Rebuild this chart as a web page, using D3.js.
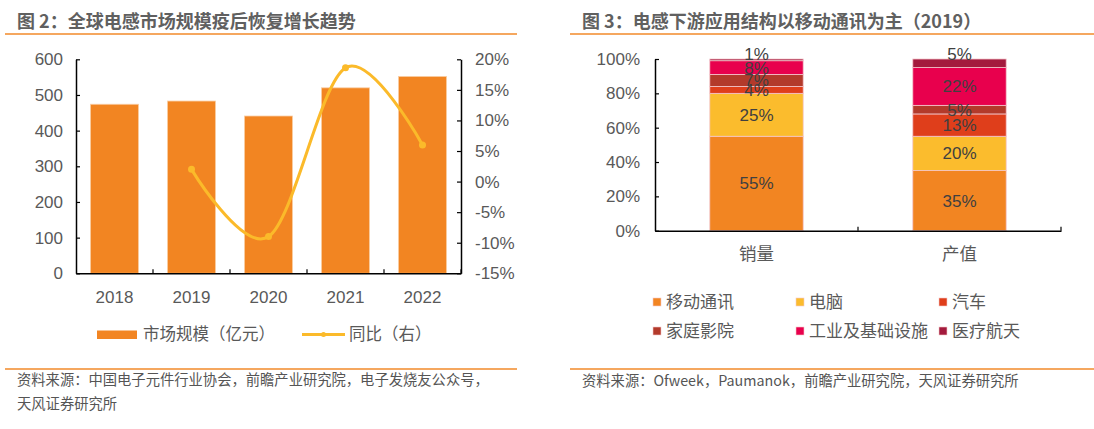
<!DOCTYPE html>
<html>
<head>
<meta charset="utf-8">
<script src="https://cdn.jsdelivr.net/npm/d3@7"></script>
<style>
  html, body { margin: 0; padding: 0; background: #fff; }
  svg { display: block; }
  text { font-family: "Liberation Sans", Arial, "Noto Sans CJK SC", sans-serif; }
  .cjk { font-family: "Noto Sans CJK SC", "Liberation Sans", sans-serif; }
</style>
</head>
<body>
<svg id="chart" width="1094" height="429"></svg>
<script>
// ---------- data ----------
const years = ["2018", "2019", "2020", "2021", "2022"];
const marketSize = [474, 483, 441, 520, 552];          // 亿元
const yoyGrowth = [null, 2.0, -9.0, 18.6, 6.0];         // %
const leftTicks = [0, 100, 200, 300, 400, 500, 600];
const rightTicks = [-15, -10, -5, 0, 5, 10, 15, 20];

const structCategories = ["销量", "产值"];
const structSeries = ["移动通讯", "电脑", "汽车", "家庭影院", "工业及基础设施", "医疗航天"];
const salesShare = [55, 25, 4, 7, 8, 1];
const valueShare = [35, 20, 13, 5, 22, 5];
const pctTicks = [0, 20, 40, 60, 80, 100];

const title1 = "图 2：全球电感市场规模疫后恢复增长趋势";
const title2 = "图 3：电感下游应用结构以移动通讯为主（2019）";
const source1a = "资料来源：中国电子元件行业协会，前瞻产业研究院，电子发烧友公众号，";
const source1b = "天风证券研究所";
const source2 = "资料来源：Ofweek，Paumanok，前瞻产业研究院，天风证券研究所";
const legend1 = ["市场规模（亿元）", "同比（右）"];

// ---------- styles ----------
const ORANGE = "#F28522";
const LINE_YELLOW = "#FBBA2A";
const RULE = "#F28A2A";
const TXT = "#595959";
const seriesColors = ["#F28522", "#FBBC2D", "#DF3E1B", "#B33A2B", "#E8004D", "#A31A3D"];

const svg = d3.select("#chart");

// header / footer rules and titles
function header(x0, x1, tx, title) {
  svg.append("line").attr("x1", x0).attr("x2", x1).attr("y1", 34).attr("y2", 34)
    .attr("stroke", RULE).attr("stroke-width", 1.5);
  svg.append("text").attr("class", "cjk").attr("x", tx).attr("y", 28)
    .attr("font-size", 18).attr("font-weight", "bold").attr("fill", "#606060").text(title);
}
header(5, 517, 17, title1);
header(570, 1094, 582, title2);
svg.append("line").attr("x1", 5).attr("x2", 517).attr("y1", 369).attr("y2", 369)
  .attr("stroke", RULE).attr("stroke-width", 1.5);
svg.append("line").attr("x1", 570).attr("x2", 1094).attr("y1", 369).attr("y2", 369)
  .attr("stroke", RULE).attr("stroke-width", 1.5);
svg.append("text").attr("class", "cjk").attr("x", 17).attr("y", 385).attr("font-size", 14.3).attr("fill", "#555").text(source1a);
svg.append("text").attr("class", "cjk").attr("x", 17).attr("y", 409).attr("font-size", 14.3).attr("fill", "#555").text(source1b);
svg.append("text").attr("class", "cjk").attr("x", 582).attr("y", 386).attr("font-size", 14.3).attr("fill", "#555").text(source2);

// ---------- left chart ----------
const L = { left: 76, right: 461, top: 59.3, bottom: 273.3 };
const xL = d3.scaleBand().domain(years).range([L.left, L.right]).paddingInner(0.375).paddingOuter(0.1875);
const yL = d3.scaleLinear().domain([0, 600]).range([L.bottom, L.top]);
const yR = d3.scaleLinear().domain([-15, 20]).range([L.bottom, L.top]);

const gL = svg.append("g");
gL.selectAll("rect.bar").data(years).join("rect").attr("class", "bar")
  .attr("x", d => xL(d)).attr("width", xL.bandwidth())
  .attr("y", (d, i) => yL(marketSize[i])).attr("height", (d, i) => yL(0) - yL(marketSize[i]))
  .attr("fill", ORANGE).attr("stroke", "#F9CFA6").attr("stroke-width", 0.8);

// axes
const axL = gL.append("g").attr("transform", `translate(${L.left},0)`)
  .call(d3.axisLeft(yL).tickValues(leftTicks).tickSizeInner(-4).tickSizeOuter(0).tickPadding(13));
const axR = gL.append("g").attr("transform", `translate(${L.right},0)`)
  .call(d3.axisRight(yR).tickValues(rightTicks).tickSizeInner(-4).tickSizeOuter(0).tickPadding(14).tickFormat(d => d + "%"));
const boundaries = years.map(d => xL(d) - xL.step() * xL.paddingInner() / 2).slice(1).concat([L.right]);
const axB = gL.append("g").attr("transform", `translate(0,${L.bottom})`)
  .call(d3.axisBottom(xL).tickSize(0).tickPadding(18));
gL.selectAll("line.btick").data(boundaries).join("line").attr("class", "btick")
  .attr("x1", d => d).attr("x2", d => d).attr("y1", L.bottom).attr("y2", L.bottom - 4)
  .attr("stroke", "#000").attr("stroke-width", 1.2);
[axL, axR, axB].forEach(a => {
  a.selectAll(".domain").attr("stroke", "#000").attr("stroke-width", 1.5);
  a.selectAll(".tick line").attr("stroke", "#000").attr("stroke-width", 1.2);
  a.selectAll(".tick text").attr("font-size", 17).attr("fill", TXT).attr("font-family", "Liberation Sans, Arial, sans-serif");
});

// growth line
const linePts = years.map((d, i) => ({ x: xL(d) + xL.bandwidth() / 2, v: yoyGrowth[i] })).filter(p => p.v !== null);
const line = d3.line().x(p => p.x).y(p => yR(p.v)).curve(d3.curveCardinal.tension(0));
gL.append("path").datum(linePts).attr("d", line).attr("fill", "none")
  .attr("stroke", LINE_YELLOW).attr("stroke-width", 3);
gL.selectAll("circle.pt").data(linePts).join("circle").attr("class", "pt")
  .attr("cx", p => p.x).attr("cy", p => yR(p.v)).attr("r", 3.5).attr("fill", LINE_YELLOW);

// legend left
svg.append("rect").attr("x", 97).attr("y", 330.5).attr("width", 40).attr("height", 8.5).attr("fill", ORANGE);
svg.append("text").attr("class", "cjk").attr("x", 143).attr("y", 334.5).attr("dy", "0.35em")
  .attr("font-size", 16.5).attr("fill", TXT).text(legend1[0]);
svg.append("line").attr("x1", 302).attr("x2", 345).attr("y1", 334.5).attr("y2", 334.5)
  .attr("stroke", LINE_YELLOW).attr("stroke-width", 3);
svg.append("circle").attr("cx", 323.5).attr("cy", 334.5).attr("r", 2.5).attr("fill", LINE_YELLOW);
svg.append("text").attr("class", "cjk").attr("x", 349).attr("y", 334.5).attr("dy", "0.35em")
  .attr("font-size", 16.5).attr("fill", TXT).text(legend1[1]);

// ---------- right chart ----------
const R = { left: 655, right: 1061, top: 59, bottom: 230.7 };
const xS = d3.scaleBand().domain(structCategories).range([R.left, R.right]).paddingInner(0.54).paddingOuter(0.27);
const yS = d3.scaleLinear().domain([0, 100]).range([R.bottom, R.top]);
const shareRows = structCategories.map((c, ci) => {
  const vals = ci === 0 ? salesShare : valueShare;
  const row = { cat: c };
  structSeries.forEach((s, si) => row[s] = vals[si]);
  return row;
});
const stacked = d3.stack().keys(structSeries)(shareRows);
const gR = svg.append("g");
stacked.forEach((layer, li) => {
  gR.selectAll(null).data(layer).join("rect")
    .attr("x", d => xS(d.data.cat)).attr("width", xS.bandwidth())
    .attr("y", d => yS(d[1])).attr("height", d => yS(d[0]) - yS(d[1]))
    .attr("fill", seriesColors[li]).attr("stroke", "#F4C6CC").attr("stroke-width", 0.8);
});
stacked.forEach((layer, li) => {
  const top = li === stacked.length - 1;
  gR.selectAll(null).data(layer).join("text")
    .attr("x", d => xS(d.data.cat) + xS.bandwidth() / 2)
    .attr("y", d => top ? yS(d[1]) - 5 : (yS(d[0]) + yS(d[1])) / 2)
    .attr("dy", "0.35em").attr("text-anchor", "middle")
    .attr("font-size", 17).attr("fill", "#404040")
    .text(d => (d[1] - d[0]) + "%");
});
const axS = gR.append("g").attr("transform", `translate(${R.left},0)`)
  .call(d3.axisLeft(yS).tickValues(pctTicks).tickSizeInner(-4).tickSizeOuter(0).tickPadding(15).tickFormat(d => d + "%"));
const axSB = gR.append("g").attr("transform", `translate(0,${R.bottom})`)
  .call(d3.axisBottom(xS).tickSize(0).tickPadding(17));
axSB.selectAll(".tick text").attr("class", "cjk").attr("font-size", 17.5);
const sBound = [xS(structCategories[1]) - xS.step() * xS.paddingInner() / 2, R.right];
gR.selectAll("line.sb").data(sBound).join("line").attr("class", "sb")
  .attr("x1", d => d).attr("x2", d => d).attr("y1", R.bottom).attr("y2", R.bottom - 4)
  .attr("stroke", "#000").attr("stroke-width", 1.2);
[axS, axSB].forEach(a => {
  a.selectAll(".domain").attr("stroke", "#000").attr("stroke-width", 1.5);
  a.selectAll(".tick line").attr("stroke", "#000").attr("stroke-width", 1.2);
  a.selectAll(".tick text").attr("fill", TXT);
});
axS.selectAll(".tick text").attr("font-size", 17).attr("font-family", "Liberation Sans, Arial, sans-serif");

// legend right
const legCols = [653, 796, 939], legRows = [302, 331];
structSeries.forEach((s, i) => {
  const x = legCols[i % 3], y = legRows[Math.floor(i / 3)];
  svg.append("rect").attr("x", x).attr("y", y - 4).attr("width", 8).attr("height", 8)
    .attr("fill", seriesColors[i]).attr("stroke", "#F6CACA").attr("stroke-width", 0.6);
  svg.append("text").attr("class", "cjk").attr("x", x + 13).attr("y", y).attr("dy", "0.35em")
    .attr("font-size", 17).attr("fill", TXT).text(s);
});
</script>
</body>
</html>
